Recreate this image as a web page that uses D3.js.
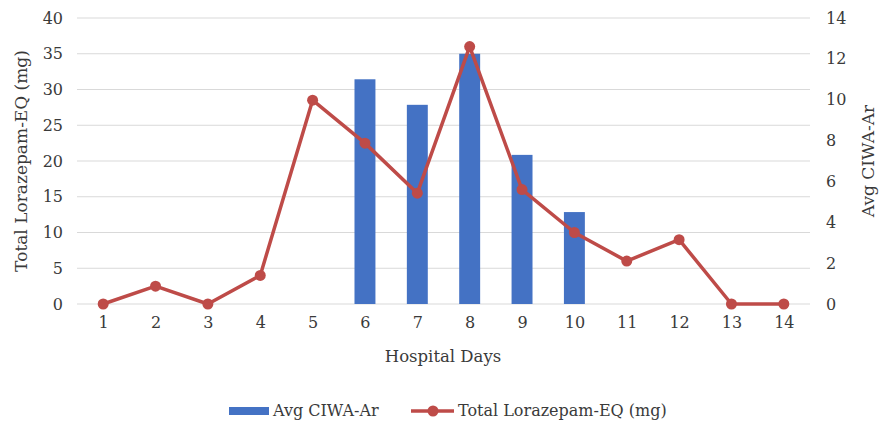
<!DOCTYPE html>
<html><head><meta charset="utf-8">
<script src="https://cdn.jsdelivr.net/npm/d3@7"></script>
<style>body{margin:0;background:#fff}svg{display:block}text{font-family:"DejaVu Serif",serif;fill:#3a3a3a}</style>
</head><body><svg id="c" width="884" height="423"></svg>
<script>
const days = [1,2,3,4,5,6,7,8,9,10,11,12,13,14];
const ciwa = [null,null,null,null,null,11.0,9.75,12.25,7.3,4.5,null,null,null,null];
const lorazepam = [0,2.5,0,4,28.5,22.5,15.5,36,16,10,6,9,0,0];
const leftTicks = [0,5,10,15,20,25,30,35,40];
const rightTicks = [0,2,4,6,8,10,12,14];

const svg = d3.select("#c");
const L = 77, R = 810, T = 18, B = 304;
const x = d3.scaleBand().domain(days).range([L, R]).paddingInner(0.6).paddingOuter(0.3);
const xc = d3.scalePoint().domain(days).range([L, R]).padding(0.5);
const yL = d3.scaleLinear().domain([0, 40]).range([B, T]);
const yR = d3.scaleLinear().domain([0, 14]).range([B, T]);

// gridlines
svg.append("g").selectAll("line").data(leftTicks).join("line")
  .attr("x1", L).attr("x2", R).attr("y1", d => yL(d)).attr("y2", d => yL(d))
  .attr("stroke", "#d9d9d9").attr("stroke-width", 1);

// left axis
const ga = svg.append("g").attr("transform", `translate(${L},0)`)
  .call(d3.axisLeft(yL).tickValues(leftTicks).tickSize(0).tickPadding(14));
ga.select(".domain").remove();
ga.selectAll("text").style("font-size", "16px").attr("fill", "#3a3a3a");

// right axis
const gr = svg.append("g").attr("transform", `translate(${R},0)`)
  .call(d3.axisRight(yR).tickValues(rightTicks).tickSize(0).tickPadding(16));
gr.select(".domain").remove();
gr.selectAll("text").style("font-size", "16px").attr("fill", "#3a3a3a");

// x axis
const gx = svg.append("g").attr("transform", `translate(0,${B})`)
  .call(d3.axisBottom(xc).tickSize(0).tickPadding(13));
gx.select(".domain").remove();
gx.selectAll("text").style("font-size", "16px").attr("fill", "#3a3a3a");

// bars
svg.append("g").selectAll("rect").data(days.map((d,i)=>({d, v: ciwa[i]})).filter(o=>o.v!=null)).join("rect")
  .attr("x", o => x(o.d)).attr("width", x.bandwidth())
  .attr("y", o => yR(o.v)).attr("height", o => B - yR(o.v))
  .attr("fill", "#4472c4");

// line
const pts = days.map((d,i)=>({d, v: lorazepam[i]}));
svg.append("path").datum(pts)
  .attr("d", d3.line().x(o => xc(o.d)).y(o => yL(o.v)))
  .attr("fill", "none").attr("stroke", "#be4b48").attr("stroke-width", 3.5).attr("stroke-linejoin", "round");
svg.append("g").selectAll("circle").data(pts).join("circle")
  .attr("cx", o => xc(o.d)).attr("cy", o => yL(o.v)).attr("r", 5.5)
  .attr("fill", "#be4b48");

// axis titles
svg.append("text").attr("transform", `translate(27,161) rotate(-90)`)
  .attr("text-anchor", "middle").style("font-size", "17px").text("Total Lorazepam-EQ (mg)");
svg.append("text").attr("transform", `translate(868,161) rotate(-90)`)
  .attr("text-anchor", "middle").attr("dominant-baseline", "central").style("font-size", "17px").text("Avg CIWA-Ar");
svg.append("text").attr("x", 443).attr("y", 362)
  .attr("text-anchor", "middle").style("font-size", "16.5px").text("Hospital Days");

// legend
const lg = svg.append("g");
lg.append("rect").attr("x", 229).attr("y", 407).attr("width", 40).attr("height", 8).attr("fill", "#4472c4");
lg.append("text").attr("x", 273).attr("y", 416).style("font-size", "16px").text("Avg CIWA-Ar");
lg.append("line").attr("x1", 411).attr("x2", 454).attr("y1", 411).attr("y2", 411)
  .attr("stroke", "#be4b48").attr("stroke-width", 3.5);
lg.append("circle").attr("cx", 433).attr("cy", 411).attr("r", 5.5).attr("fill", "#be4b48");
lg.append("text").attr("x", 458).attr("y", 416).style("font-size", "16px").text("Total Lorazepam-EQ (mg)");
</script></body></html>
